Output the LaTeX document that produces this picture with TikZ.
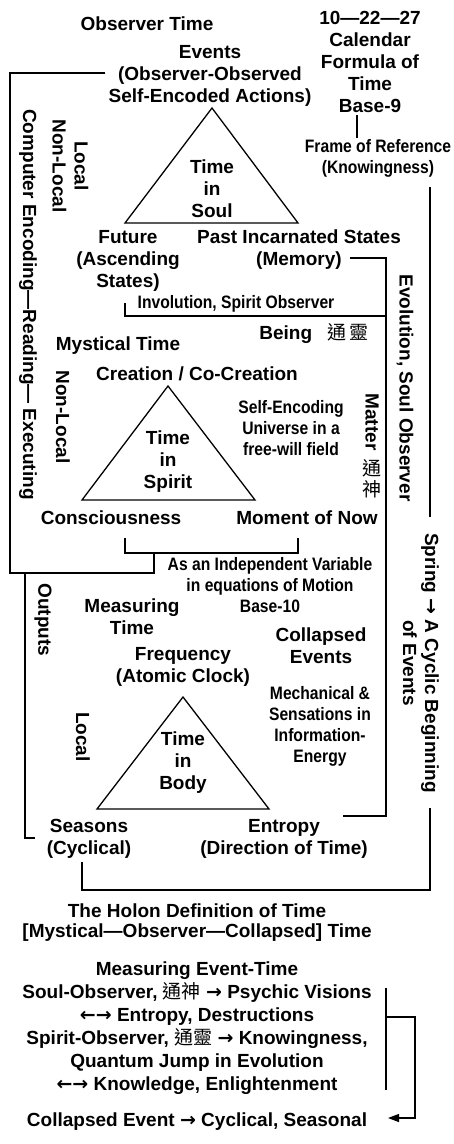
\documentclass[tikz,border=0pt]{standalone}
\usepackage{fontspec}
\setmainfont{Liberation Sans}
\newfontfamily\narrowfont[FakeStretch=0.87]{Liberation Sans}
\newfontfamily\cjkfont{Noto Sans CJK TC}
\newfontfamily\arrowfont{DejaVu Sans}
\newcommand\hanzi[1]{{\cjkfont\mdseries #1}}
\newcommand\rarr{{\arrowfont →}}
\newcommand\lrarr{{\arrowfont ←→}}
\usetikzlibrary{arrows.meta,positioning,calc}

\begin{document}
\begin{tikzpicture}[x=1pt, y=-1pt, >={Triangle[length=11pt,width=8pt]}]
  % ------- styles -------
  \tikzstyle{lbl}=[align=center, inner sep=0pt, font=\fontsize{19}{22}\selectfont\bfseries]
  \tikzstyle{nlbl}=[lbl, font=\fontsize{18}{21}\selectfont\narrowfont\bfseries]
  \tikzstyle{vlbl}=[lbl, rotate=-90]
  \tikzstyle{tri}=[draw, line width=1.3pt, line join=miter]
  \tikzstyle{link}=[draw, line width=1.3pt]

  \useasboundingbox (0,0) rectangle (453,1144);

  % ------- top: observer time -------
  \node[lbl] (obs)  at (147,24)   {Observer Time};
  \node[lbl] (cal)  at (370,61.5) {10---22---27\\Calendar\\Formula of\\Time\\Base-9};
  \node[lbl] (ev)   at (210,76)   {Events\\(Observer-Observed\\Self-Encoded Actions)};
  \node[nlbl] (fr)  at (378,158)  {Frame of Reference\\(Knowingness)};
  \draw[tri] (212,108) -- (298,223) -- (125,223) -- cycle;
  \node[lbl] (soul) at (212,189)  {Time\\in\\Soul};
  \node[lbl] (fut)  at (128,261)  {Future\\(Ascending\\States)};
  \node[lbl] (past) at (299,250)  {Past Incarnated States\\(Memory)};
  \node[nlbl] (inv) at (236,304)  {Involution, Spirit Observer};
  \node[lbl] (being) at (314,334) {Being\hspace{0.8em}\hanzi{通\,靈}};

  % ------- middle: mystical time -------
  \node[lbl] (myst) at (118,346)  {Mystical Time};
  \node[lbl] (crea) at (197,374)  {Creation / Co-Creation};
  \node[nlbl] (selfenc) at (291,428) {Self-Encoding\\Universe in a\\free-will field};
  \draw[tri] (168,386) -- (255,500) -- (82,500) -- cycle;
  \node[lbl] (spirit) at (168,462) {Time\\in\\Spirit};
  \node[lbl, rotate=-90] (matter) at (372,422) {Matter};
  \node[lbl] (tong) at (372,468) {\hanzi{通}};
  \node[lbl] (shen) at (372,489) {\hanzi{神}};
  \node[lbl] (cons) at (111,518)  {Consciousness};
  \node[lbl] (now)  at (307,518)  {Moment of Now};
  \node[nlbl] (indep) at (270,585) {As an Independent Variable\\in equations of Motion\\Base-10};

  % ------- lower: measuring time -------
  \node[lbl] (meas) at (132,617)  {Measuring\\Time};
  \node[lbl] (coll) at (321,646)  {Collapsed\\Events};
  \node[lbl] (freq) at (183,667)  {Frequency\\(Atomic Clock)};
  \node[nlbl] (mech) at (320,726) {Mechanical \&\\Sensations in\\Information-\\Energy};
  \draw[tri] (183,697) -- (269,809) -- (97,809) -- cycle;
  \node[lbl] (body) at (183,763)  {Time\\in\\Body};
  \node[lbl] (seas) at (89,839)   {Seasons\\(Cyclical)};
  \node[lbl] (entr) at (284,839)  {Entropy\\(Direction of Time)};

  % vertical labels
  \node[vlbl] (comp)   at (28,304.5) {Computer Encoding---Reading--- Executing};
  \node[vlbl] (loc1)   at (70.5,166) {Local\\Non-Local};
  \node[vlbl] (nonloc) at (63,417)   {Non-Local};
  \node[vlbl] (outp)   at (43,620)   {Outputs};
  \node[vlbl] (loc3)   at (83,737)   {Local};
  \node[vlbl] (evo)    at (405,388)  {Evolution, Soul Observer};
  \node[vlbl] (spring) at (421,663)  {Spring \rarr{} A Cyclic Beginning\\of Events};

  % ------- bottom: holon definition -------
  \node[lbl, font=\fontsize{19}{20}\selectfont\bfseries] (holon) at (197,923)
    {The Holon Definition of Time\\{[}Mystical---Observer---Collapsed{]} Time};
  \node[lbl, font=\fontsize{19}{23}\selectfont\bfseries] (mevt) at (197,1028.5)
    {Measuring Event-Time\\Soul-Observer, \hanzi{通神} \rarr{} Psychic Visions\\\lrarr{} Entropy, Destructions\\Spirit-Observer, \hanzi{通靈} \rarr{} Knowingness,\\Quantum Jump in Evolution\\\lrarr{} Knowledge, Enlightenment};
  \node[lbl] (colev) at (197,1122) {Collapsed Event \rarr{} Cyclical, Seasonal};

  % ------- corner points -------
  \coordinate (boxtl) at (10,73);
  \coordinate (boxbl) at (10,573);
  \coordinate (boxbr) at (154,573);
  \coordinate (brkl)  at (125,538);
  \coordinate (brklb) at (125,553);
  \coordinate (brkrb) at (298,553);
  \coordinate (brkr)  at (298,538);
  \coordinate (outb)  at (25,838);
  \coordinate (outt)  at (25,573);
  \coordinate (outh)  at (35,838);
  \coordinate (seast) at (82,862);
  \coordinate (seasb) at (82,890);
  \coordinate (rgtb)  at (430,890);
  \coordinate (rgtm)  at (430,808);
  \coordinate (rgtt)  at (430,187);
  \coordinate (rgtu)  at (430,517);
  \coordinate (bsnine) at (357,115);
  \coordinate (frtop) at (357,138);
  \coordinate (memr)  at (386,258);
  \coordinate (meml)  at (350,258);
  \coordinate (memb)  at (386,816);
  \coordinate (mechl) at (343,816);
  \coordinate (invl)  at (125,303);
  \coordinate (invb)  at (125,316);
  \coordinate (invr)  at (386,316);
  \coordinate (brt)   at (386,988);
  \coordinate (brb)   at (386,1090);
  \coordinate (brm)   at (386,1017);
  \coordinate (brx)   at (415,1017);
  \coordinate (bry)   at (415,1118);
  \coordinate (artip) at (388,1118);

  % ------- connectors -------
  \draw[link] ([xshift=-3pt]ev.west |- boxtl) -- (boxtl) -- (boxbl) -- (boxbr) -- (boxbr |- brklb);
  \draw[link] (brkl) -- (brklb) -- (brkrb) -- (brkr);
  \draw[link] (outt) -- (outb) -- (outh);
  \draw[link] (seast) -- (seasb) -- (rgtb) -- (rgtm);
  \draw[link] (rgtt) -- (rgtu);
  \draw[link] (bsnine) -- (frtop);
  \draw[link] (meml) -- (memr) -- (memb) -- (mechl);
  \draw[link] (invl) -- (invb) -- (invr);
  \draw[link] (brt) -- (brb);
  \draw[link, ->] (brm) -- (brx) -- (bry) -- (artip);

\end{tikzpicture}
\end{document}
